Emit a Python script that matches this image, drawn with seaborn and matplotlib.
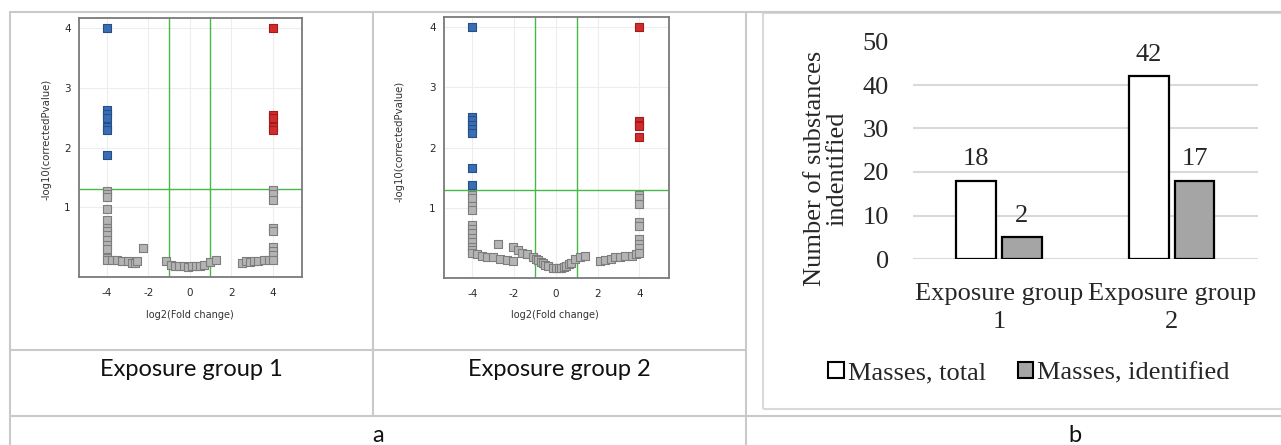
import numpy as np
import pandas as pd
import matplotlib
matplotlib.use("Agg")
import matplotlib.pyplot as plt
import seaborn as sns
from matplotlib.lines import Line2D
from matplotlib.patches import Rectangle, Patch

# ---------------- data ----------------
# Volcano plot, Exposure group 1
g1_down_x = [-4, -4, -4, -4, -4, -4, -4]
g1_down_y = [4.0, 2.63, 2.56, 2.50, 2.34, 2.29, 1.88]
g1_up_x = [4, 4, 4, 4, 4]
g1_up_y = [4.0, 2.54, 2.50, 2.34, 2.29]
g1_ns_x = [-4, -4, -4, -4, -4, -4, -4, -4, -4, -4, -4, -4, -4,
           -3.75, -3.5, -3.25, -3.0, -2.8, -2.65, -2.55, -2.28, -1.13,
           -0.9, -0.7, -0.5, -0.3, -0.1, 0.1, 0.3, 0.5, 0.7, 1.0, 1.28,
           2.5, 2.7, 2.9, 3.1, 3.3, 3.6, 3.85,
           4, 4, 4, 4, 4, 4, 4, 4, 4]
g1_ns_y = [1.27, 1.22, 1.18, 0.97, 0.79, 0.65, 0.60, 0.54, 0.45, 0.38, 0.31, 0.15, 0.12,
           0.12, 0.12, 0.11, 0.10, 0.08, 0.08, 0.10, 0.32, 0.11,
           0.04, 0.03, 0.02, 0.02, 0.01, 0.02, 0.02, 0.03, 0.04, 0.09, 0.12,
           0.08, 0.10, 0.09, 0.11, 0.10, 0.12, 0.12,
           1.29, 1.22, 1.13, 0.65, 0.60, 0.34, 0.27, 0.20, 0.12]

# Volcano plot, Exposure group 2
g2_down_x = [-4, -4, -4, -4, -4, -4, -4, -4]
g2_down_y = [4.0, 2.51, 2.45, 2.38, 2.30, 2.24, 1.66, 1.38]
g2_up_x = [4, 4, 4, 4, 4]
g2_up_y = [4.0, 2.44, 2.38, 2.35, 2.18]
g2_ns_x = [-4, -4, -4, -4, -4, -4, -4, -4, -4, -4, -4, -4,
           -3.78, -3.54, -3.3, -2.99, -2.67, -2.35, -2.04, -2.75,
           -2.04, -1.83, -1.64, -1.4, -1.08, -0.95, -0.84, -0.7, -0.6, -0.5, -0.37, -0.13,
           0.03, 0.15, 0.27, 0.4, 0.5, 0.62, 0.74, 0.9, 1.14, 1.38,
           2.14, 2.38, 2.62, 2.85, 3.09, 3.33, 3.65, 3.85,
           4, 4, 4, 4, 4, 4, 4, 4, 4]
g2_ns_y = [1.22, 1.16, 1.04, 0.96, 0.71, 0.65, 0.58, 0.51, 0.44, 0.36, 0.30, 0.25,
           0.23, 0.21, 0.19, 0.18, 0.15, 0.14, 0.12, 0.41,
           0.36, 0.30, 0.26, 0.23, 0.18, 0.15, 0.14, 0.10, 0.09, 0.06, 0.04, 0.00,
           0.00, 0.01, 0.01, 0.03, 0.04, 0.07, 0.09, 0.15, 0.19, 0.21,
           0.12, 0.14, 0.16, 0.18, 0.19, 0.20, 0.21, 0.24,
           1.22, 1.16, 1.07, 0.77, 0.70, 0.48, 0.41, 0.33, 0.25]

# Bar chart (b)
bar_groups = ["Exposure group\n1", "Exposure group\n2"]
bar_series = ["Masses, total", "Masses, identified"]
total_heights = [18, 42]
identified_heights = [5, 18]
total_labels = ["18", "42"]
identified_labels = ["2", "17"]

# ---------------- style ----------------
sns.set_style("white")
plt.rcParams["font.family"] = ["DejaVu Sans"]
plt.rcParams["axes.unicode_minus"] = False

W, H = 1281, 445
fig = plt.figure(figsize=(W / 100, H / 100), dpi=100)
fig.patch.set_facecolor("white")


def box(l, t, r, b):
    return [l / W, 1 - b / H, (r - l) / W, (b - t) / H]


ax1 = fig.add_axes(box(79, 18, 302, 277))
ax2 = fig.add_axes(box(444, 17, 669, 278))
axb = fig.add_axes(box(912.5, 41.5, 1258, 259))


def volcano(ax, dx, dy, ux, uy, nx, ny, xlab_pos, ylab_pos):
    ns = pd.DataFrame({"x": nx, "y": ny})
    dn = pd.DataFrame({"x": dx, "y": dy})
    up = pd.DataFrame({"x": ux, "y": uy})
    sns.scatterplot(data=ns, x="x", y="y", ax=ax, marker="s", s=36,
                    color="#b4b4b4", edgecolor="#7d7d7d", linewidth=0.8, zorder=3)
    sns.scatterplot(data=dn, x="x", y="y", ax=ax, marker="s", s=36,
                    color="#3a6db3", edgecolor="#244f8a", linewidth=0.8, zorder=4)
    sns.scatterplot(data=up, x="x", y="y", ax=ax, marker="s", s=36,
                    color="#d32b2b", edgecolor="#9e1c1c", linewidth=0.8, zorder=4)
    ax.axhline(1.301, color="#47b847", lw=1.0, zorder=2)
    ax.axvline(-1, color="#47b847", lw=1.0, zorder=2)
    ax.axvline(1, color="#47b847", lw=1.0, zorder=2)
    ax.set_xlim(-5.35, 5.42)
    ax.set_ylim(-0.16, 4.16)
    ax.set_xticks([-4, -2, 0, 2, 4])
    ax.set_yticks([1, 2, 3, 4])
    ax.grid(True, color="#ededed", lw=0.8)
    ax.set_axisbelow(True)
    for sp in ax.spines.values():
        sp.set_color("#7a7a7a")
        sp.set_linewidth(1.3)
    ax.tick_params(length=3, width=0.8, color="#7a7a7a", labelsize=7.5,
                   labelcolor="#2a2a2a", pad=3)
    ax.tick_params(axis="x", pad=5)
    ax.set_xlabel("log2(Fold change)", fontsize=7, color="#333333", va="center")
    ax.set_ylabel("-log10(correctedPvalue)", fontsize=7.3, color="#333333", va="center")
    ax.xaxis.set_label_coords(*xlab_pos)
    ax.yaxis.set_label_coords(*ylab_pos)


volcano(ax1, g1_down_x, g1_down_y, g1_up_x, g1_up_y, g1_ns_x, g1_ns_y,
        (0.498, -0.147), (-0.1435, 0.533))
volcano(ax2, g2_down_x, g2_down_y, g2_up_x, g2_up_y, g2_ns_x, g2_ns_y,
        (0.493, -0.142), (-0.1956, 0.525))

# ---------------- bar chart ----------------
serif = ["Liberation Serif", "DejaVu Serif"]
FS = 19
bar_df = pd.DataFrame({
    "group": bar_groups + bar_groups,
    "series": [bar_series[0]] * len(bar_groups) + [bar_series[1]] * len(bar_groups),
    "value": total_heights + identified_heights,
})
bar_colors = ["#ffffff", "#a5a5a5"]
sns.barplot(data=bar_df, x="group", y="value", hue="series", ax=axb,
            palette=bar_colors, edgecolor="black", linewidth=1.6,
            width=0.53, gap=0.13, errorbar=None, legend=False, zorder=3)
for cont, labs in zip(axb.containers, [total_labels, identified_labels]):
    axb.bar_label(cont, labels=labs, padding=7.5, fontsize=FS, family=serif)

axb.set_ylim(0, 50)
axb.set_xlim(-0.5, 1.5)
axb.set_yticks([0, 10, 20, 30, 40, 50])
axb.grid(axis="y", color="#d9d9d9", lw=1.5, zorder=0)
axb.set_axisbelow(True)
for sp in axb.spines.values():
    sp.set_visible(False)
axb.tick_params(axis="y", length=0, pad=17, labelsize=FS)
axb.tick_params(axis="x", length=0, pad=17.5, labelsize=FS)
for t in axb.get_xticklabels() + axb.get_yticklabels():
    t.set_family(serif)
for t in axb.get_xticklabels():
    t.set_linespacing(1.32)
axb.set_xlabel("")
axb.set_ylabel("Number of substances\nindentified", fontsize=FS, family=serif,
               va="center", linespacing=1.02)
axb.yaxis.set_label_coords(-0.25, 0.417)

handles = [Patch(facecolor=c, edgecolor="black", lw=1.5) for c in bar_colors]
axb.legend(handles, bar_series, loc="center", bbox_to_anchor=(0.337, -0.524),
           ncol=2, frameon=False, prop={"family": serif, "size": FS},
           handlelength=0.6, handleheight=0.6, handletextpad=0.15,
           columnspacing=1.2, borderaxespad=0)

# ---------------- table frame ----------------
lc = "#c9c9c9"


def hline(y, x0, x1, c=lc):
    fig.add_artist(Line2D([x0 / W, x1 / W], [1 - y / H, 1 - y / H],
                          transform=fig.transFigure, color=c, lw=1.5))


def vline(x, y0, y1, c=lc):
    fig.add_artist(Line2D([x / W, x / W], [1 - y0 / H, 1 - y1 / H],
                          transform=fig.transFigure, color=c, lw=1.5))


hline(11.5, 10, W)
vline(10, 11.5, H)
vline(373.3, 11.5, 415.7)
vline(746, 11.5, H)
hline(350, 10, 746)
hline(415.7, 10, W)
fig.add_artist(Rectangle((763.3 / W, 1 - 409 / H), (W + 20 - 763.3) / W, (409 - 12.5) / H,
                         transform=fig.transFigure, fill=False, edgecolor="#d9d9d9", lw=1.5))

cell_font = ["Lato", "DejaVu Sans"]
fig.text(191.5 / W, 1 - 369 / H, "Exposure group 1", ha="center", va="center",
         fontsize=17, family=cell_font, color="#111111")
fig.text(559.7 / W, 1 - 369 / H, "Exposure group 2", ha="center", va="center",
         fontsize=17, family=cell_font, color="#111111")
fig.text(378 / W, 1 - 435 / H, "a", ha="center", va="center",
         fontsize=17, family=cell_font, color="#111111")
fig.text(1075 / W, 1 - 435 / H, "b", ha="center", va="center",
         fontsize=17, family=cell_font, color="#111111")

fig.savefig("out.png", dpi=100, facecolor="white")
